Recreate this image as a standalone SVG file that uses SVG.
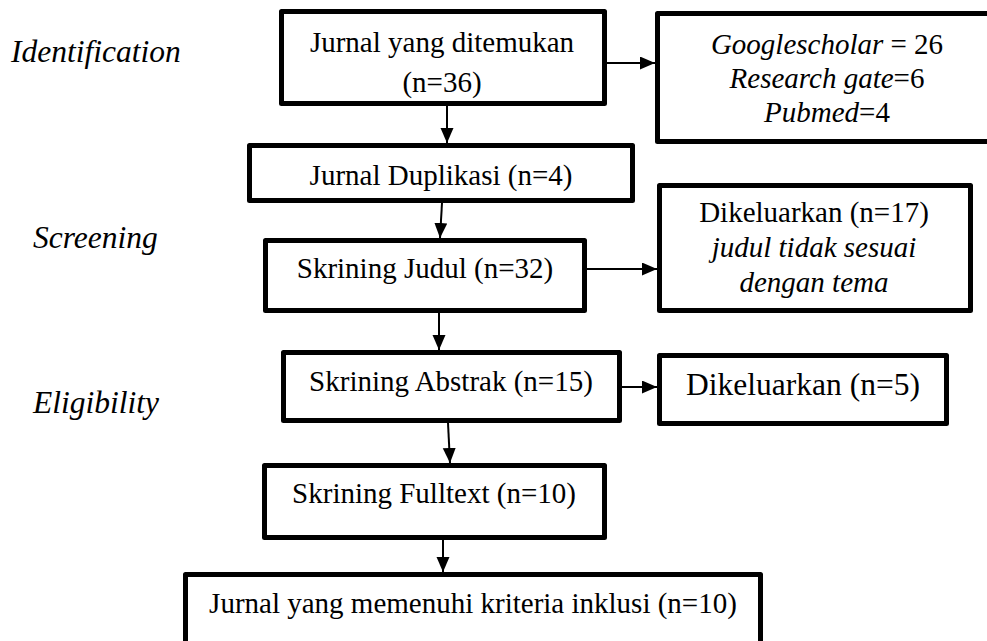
<svg xmlns="http://www.w3.org/2000/svg" width="987" height="641" viewBox="0 0 987 641">
<style>
.box{fill:#fff;stroke:#000;stroke-width:5;stroke-linejoin:round}
text{font-family:'Liberation Serif','Times New Roman','DejaVu Serif',serif}
.t{font-size:29px;fill:#000;text-anchor:middle}
.i{font-style:italic}
.lbl{font-size:31.5px;font-style:italic;fill:#000}
.c{stroke:#000;stroke-width:2;fill:none;marker-end:url(#ah)}
</style>
<defs>
<marker id="ah" markerUnits="userSpaceOnUse" markerWidth="16" markerHeight="14" refX="15" refY="6.5" orient="auto">
<path d="M0,0 L15,6.5 L0,13 z" fill="#000"/>
</marker>
</defs>
<rect width="987" height="641" fill="#fff"/>
<g id="labels">
<text class="lbl" x="11" y="62" font-family="Liberation Serif, serif">Identification</text>
<text class="lbl" x="33" y="248" font-family="Liberation Serif, serif">Screening</text>
<text class="lbl" x="33" y="413" font-family="Liberation Serif, serif">Eligibility</text>
</g>
<g id="connectors">
<line class="c" x1="447" y1="106" x2="447" y2="143"/>
<line class="c" x1="607" y1="63" x2="655" y2="63"/>
<line class="c" x1="442" y1="203" x2="440" y2="238"/>
<line class="c" x1="587" y1="269" x2="657" y2="269"/>
<line class="c" x1="439" y1="313" x2="439" y2="350"/>
<line class="c" x1="622" y1="387" x2="657" y2="387"/>
<line class="c" x1="448" y1="423" x2="450" y2="463"/>
<line class="c" x1="443" y1="540" x2="443" y2="572"/>
</g>
<g id="n1">
<rect class="box" x="281.5" y="11.5" width="323" height="92"/>
<text class="t" x="442" y="52">Jurnal yang ditemukan</text>
<text class="t" x="442" y="92">(n=36)</text>
</g>
<g id="n2">
<rect class="box" x="657.5" y="13.5" width="340" height="128"/>
<text class="t" x="827" y="54"><tspan class="i">Googlescholar</tspan> = 26</text>
<text class="t" x="827" y="88"><tspan class="i">Research gate</tspan>=6</text>
<text class="t" x="827" y="122"><tspan class="i">Pubmed</tspan>=4</text>
</g>
<g id="n3">
<rect class="box" x="249.5" y="145.5" width="383" height="55"/>
<text class="t" x="441" y="185">Jurnal Duplikasi (n=4)</text>
</g>
<g id="n4">
<rect class="box" x="265.5" y="240.5" width="319" height="70"/>
<text class="t" x="425" y="278">Skrining Judul (n=32)</text>
</g>
<g id="n5">
<rect class="box" x="659.5" y="185.5" width="311" height="125"/>
<text class="t" x="814" y="222">Dikeluarkan (n=17)</text>
<text class="t i" x="814" y="257">judul tidak sesuai</text>
<text class="t i" x="814" y="292">dengan tema</text>
</g>
<g id="n6">
<rect class="box" x="283.5" y="352.5" width="336" height="68"/>
<text class="t" x="451" y="391">Skrining Abstrak (n=15)</text>
</g>
<g id="n7">
<rect class="box" x="659.5" y="355.5" width="287" height="68"/>
<text class="t" x="803" y="395" style="font-size:31.5px">Dikeluarkan (n=5)</text>
</g>
<g id="n8">
<rect class="box" x="264.5" y="465.5" width="340" height="72"/>
<text class="t" x="434" y="503">Skrining Fulltext (n=10)</text>
</g>
<g id="n9">
<rect class="box" x="185.5" y="574.5" width="575" height="80"/>
<text class="t" x="473" y="613">Jurnal yang memenuhi kriteria inklusi (n=10)</text>
</g>
</svg>
